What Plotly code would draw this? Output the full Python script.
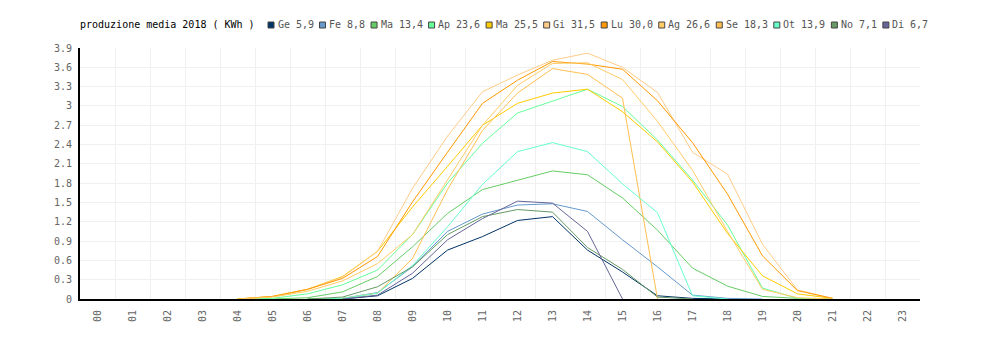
import plotly.graph_objects as go

# ---------------- data ----------------
hours = [f"{h:02d}" for h in range(24)]

series_names = ["Ge 5,9", "Fe 8,8", "Ma 13,4", "Ap 23,6", "Ma 25,5", "Gi 31,5",
                "Lu 30,0", "Ag 26,6", "Se 18,3", "Ot 13,9", "No 7,1", "Di 6,7"]

N = None  # hours with no recorded production (not drawn)
ge = [N, N, N, N, N, N, N, 0, 0.05, 0.32, 0.76, 0.97, 1.22, 1.28, 0.76, 0.42, 0.05, 0.01, 0, N, N, N, N, N]
fe = [N, N, N, N, N, N, 0, 0.01, 0.10, 0.50, 1.05, 1.32, 1.46, 1.48, 1.36, 0.92, 0.50, 0.06, 0.01, 0, N, N, N, N]
mar = [N, N, N, N, N, 0, 0.02, 0.11, 0.35, 0.81, 1.33, 1.70, 1.85, 1.99, 1.93, 1.57, 1.07, 0.48, 0.20, 0.04, 0.01, 0, N, N]
ap = [N, N, N, N, 0, 0.01, 0.08, 0.22, 0.45, 1.00, 1.80, 2.42, 2.89, 3.07, 3.26, 2.99, 2.47, 1.85, 1.15, 0.17, 0.01, 0, N, N]
mag = [N, N, N, N, 0, 0.04, 0.15, 0.35, 0.74, 1.43, 2.06, 2.70, 3.04, 3.20, 3.26, 2.91, 2.44, 1.82, 1.02, 0.36, 0.08, 0.01, N, N]
gi = [N, N, N, N, 0, 0.04, 0.15, 0.34, 0.74, 1.72, 2.53, 3.22, 3.48, 3.71, 3.82, 3.60, 3.21, 2.28, 1.94, 0.85, 0.14, 0.01, N, N]
lu = [N, N, N, N, 0, 0.04, 0.15, 0.32, 0.66, 1.51, 2.28, 3.04, 3.40, 3.69, 3.65, 3.57, 3.08, 2.43, 1.63, 0.67, 0.13, 0.01, N, N]
ag = [N, N, N, N, 0, 0.03, 0.12, 0.28, 0.55, 1.00, 1.85, 2.70, 3.32, 3.66, 3.67, 3.41, 2.76, 2.00, 1.05, 0.15, 0.02, 0, N, N]
se = [N, N, N, N, N, N, 0, 0.01, 0.09, 0.63, 1.70, 2.62, 3.20, 3.58, 3.49, 3.12, 0, N, N, N, N, N, N, N]
ot = [N, N, N, N, N, N, 0, 0.01, 0.09, 0.52, 1.12, 1.78, 2.29, 2.43, 2.29, 1.79, 1.34, 0.05, 0, N, N, N, N, N]
no = [N, N, N, N, N, N, 0, 0.03, 0.19, 0.50, 1.00, 1.28, 1.39, 1.35, 0.80, 0.46, 0.03, 0, N, N, N, N, N, N]
di = [N, N, N, N, N, N, N, 0, 0.06, 0.40, 0.92, 1.25, 1.52, 1.49, 1.05, 0, N, N, N, N, N, N, N, N]

series_values = [ge, fe, mar, ap, mag, gi, lu, ag, se, ot, no, di]

series_colors = ["#003366", "#6699cc", "#66cc66", "#66ff99", "#ffcc00", "#ffcc88",
                 "#ff9900", "#ffcc66", "#ffc050", "#66ffcc", "#669966", "#666699"]

y_tickvals = [0, 0.3, 0.6, 0.9, 1.2, 1.5, 1.8, 2.1, 2.4, 2.7, 3.0, 3.3, 3.6, 3.9]
y_ticktext = ["0", "0.3", "0.6", "0.9", "1.2", "1.5", "1.8", "2.1", "2.4", "2.7", "3", "3.3", "3.6", "3.9"]

chart_title = "produzione media 2018 ( KWh )"

# ---------------- layout geometry ----------------
W, H = 1000, 340
ML, MR, MT, MB = 80, 80, 48, 41
PW, PH = W - ML - MR, H - MT - MB
FONT = "DejaVu Sans Mono"
CW = 6.02  # monospace char width at 10px


def px2x(px):
    return (px - ML) / PW


def py2y(py):
    return (H - MB - py) / PH


fig = go.Figure()
for name, vals, col in zip(series_names, series_values, series_colors):
    fig.add_trace(go.Scatter(x=hours, y=vals, mode="lines", name=name,
                             line=dict(color=col, width=1), showlegend=False,
                             connectgaps=False, hoverinfo="x+y+name"))

annotations = [dict(text=chart_title, xref="paper", yref="paper",
                    x=px2x(78), y=py2y(24.5), xanchor="left", yanchor="middle",
                    showarrow=False, font=dict(family=FONT, size=10, color="#000000"))]
shapes = []
lx = 268
for name, col in zip(series_names, series_colors):
    shapes.append(dict(type="rect", xref="paper", yref="paper",
                       x0=px2x(lx), x1=px2x(lx + 6), y0=py2y(28), y1=py2y(22),
                       fillcolor=col, line=dict(color="#444444", width=1)))
    annotations.append(dict(text=name, xref="paper", yref="paper",
                            x=px2x(lx + 7.5), y=py2y(24.5), xanchor="left", yanchor="middle",
                            showarrow=False, font=dict(family=FONT, size=10, color="#555555")))
    lx += 9 + len(name) * CW + 6.4

fig.update_layout(
    width=W, height=H,
    margin=dict(l=ML, r=MR, t=MT, b=MB),
    paper_bgcolor="white", plot_bgcolor="white",
    font=dict(family=FONT, size=10, color="#666666"),
    showlegend=False,
    annotations=annotations,
    shapes=shapes,
    xaxis=dict(type="category", range=[-0.5, 23.5], tickson="boundaries",
               showgrid=True, gridcolor="#f0f0f0", gridwidth=1,
               showline=True, linecolor="#000000", linewidth=2,
               ticks="", tickangle=-90, ticklabelstandoff=5,
               tickfont=dict(family=FONT, size=10, color="#666666"),
               zeroline=False, layer="above traces"),
    yaxis=dict(range=[0, 3.9], tickmode="array", tickvals=y_tickvals, ticktext=y_ticktext,
               showgrid=True, gridcolor="#f0f0f0", gridwidth=1,
               showline=True, linecolor="#000000", linewidth=2,
               ticks="", ticklabelstandoff=4,
               tickfont=dict(family=FONT, size=10, color="#666666"),
               zeroline=False, layer="above traces"),
)

fig.write_html("out.html")
